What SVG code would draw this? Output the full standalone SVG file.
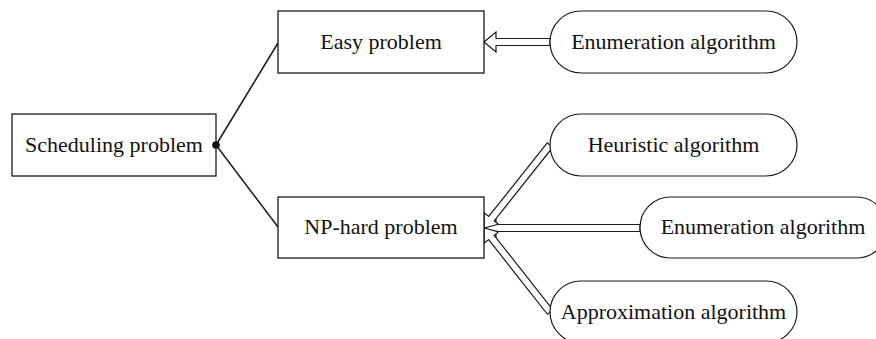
<svg xmlns="http://www.w3.org/2000/svg" width="876" height="339" viewBox="0 0 876 339">
<style>
.box{fill:#fff;stroke:#1a1a1a;stroke-width:1.3}
.pill{fill:#fff;stroke:#1a1a1a;stroke-width:1.2}
.t{font-family:"Liberation Serif","Times New Roman",serif;font-size:22px;fill:#111;text-anchor:middle}
.ln{stroke:#1a1a1a;stroke-width:1.5;fill:none}
.arr{fill:#fff;stroke:#1a1a1a;stroke-width:1.2;stroke-linejoin:miter}
</style>
<rect width="876" height="339" fill="#fff"/>
<g id="connectors">
  <line class="ln" x1="216" y1="145" x2="278" y2="43"/>
  <line class="ln" x1="216" y1="145" x2="278" y2="227"/>
  <polygon class="arr" transform="translate(484,42)" points="0,0 12,-10 12,-3.5 66,-3.5 66,3.5 12,3.5 12,10"/>
  <polygon class="arr" transform="translate(484,228)" points="0,0 12,-9 12,-3.5 156,-3.5 156,3.5 12,3.5 12,9"/>
  <polygon class="arr" transform="translate(484,228) rotate(-51.5)" points="0,0 12,-9 12,-3.5 106,-3.5 106,3.5 12,3.5 12,9"/>
  <polygon class="arr" transform="translate(484,228) rotate(51.8)" points="0,0 12,-9 12,-3.5 107,-3.5 107,3.5 12,3.5 12,9"/>
</g>
<g id="scheduling">
  <rect class="box" x="12" y="114" width="204" height="62"/>
  <text class="t" x="114" y="152">Scheduling problem</text>
</g>
<g id="easy">
  <rect class="box" x="278" y="11" width="206" height="62"/>
  <text class="t" x="381" y="49">Easy problem</text>
</g>
<g id="nphard">
  <rect class="box" x="278" y="197" width="206" height="61"/>
  <text class="t" x="381" y="234">NP-hard problem</text>
</g>
<g id="enum1">
  <rect class="pill" x="550" y="11" width="247" height="62" rx="31" ry="31"/>
  <text class="t" x="673.5" y="49">Enumeration algorithm</text>
</g>
<g id="heuristic">
  <rect class="pill" x="550" y="114" width="247" height="62" rx="31" ry="31"/>
  <text class="t" x="673.5" y="152">Heuristic algorithm</text>
</g>
<g id="enum2">
  <rect class="pill" x="640" y="197" width="247" height="61" rx="30.5" ry="30.5"/>
  <text class="t" x="763" y="234">Enumeration algorithm</text>
</g>
<g id="approx">
  <rect class="pill" x="550" y="281" width="247" height="62" rx="31" ry="31"/>
  <text class="t" x="673.5" y="319">Approximation algorithm</text>
</g>
<g id="junction">
  <circle cx="216" cy="145" r="3.8" fill="#111"/>
</g>
</svg>
